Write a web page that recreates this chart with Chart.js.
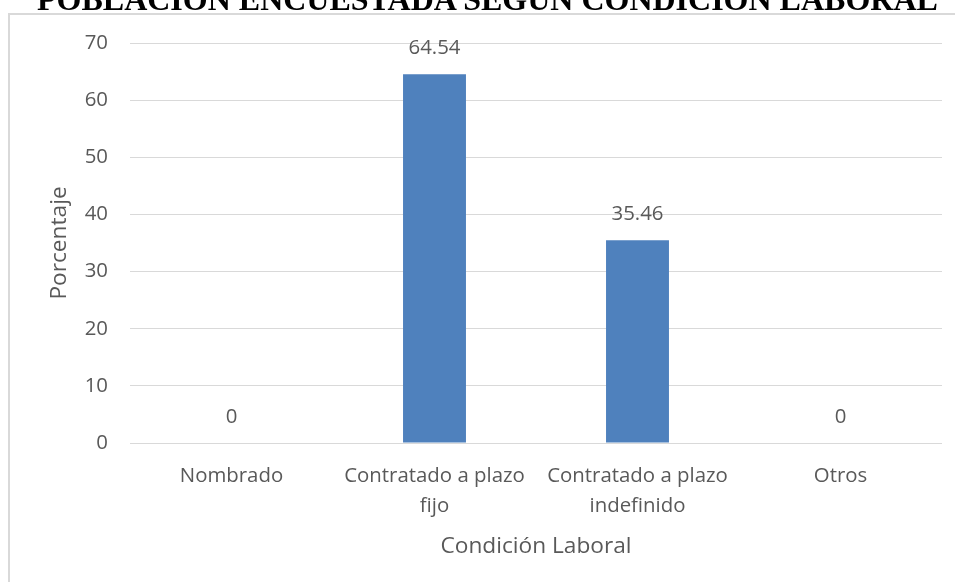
<!DOCTYPE html>
<html>
<head>
<meta charset="utf-8">
<script src="https://cdn.jsdelivr.net/npm/chart.js@4.4.0/dist/chart.umd.min.js"></script>
<style>
  html, body { margin: 0; padding: 0; background: #ffffff; width: 955px; height: 582px; overflow: hidden; }
  #title { position: absolute; left: 0; top: 0; width: 955px; height: 13px; overflow: hidden; z-index: 2; }
  #title span { position: absolute; left: 37px; white-space: nowrap; font-family: "Liberation Serif", "DejaVu Serif", serif; font-weight: bold; color: #000; line-height: 1; }
  #frame { position: absolute; left: 8px; top: 13px; width: 960px; height: 580px; border-left: 2px solid #d9d9d9; border-top: 2px solid #d9d9d9; }
  #wrap { position: absolute; left: 0; top: 0; width: 955px; height: 582px; z-index: 1; }
  canvas { display: block; }
</style>
</head>
<body>
<div id="frame"></div>
<div id="wrap"><canvas id="c" width="955" height="582"></canvas></div>
<div id="title"><span id="tt">POBLACIÓN ENCUESTADA SEGÚN CONDICIÓN LABORAL</span></div>
<script>
const categories = [["Nombrado"], ["Contratado a plazo", "fijo"], ["Contratado a plazo", "indefinido"], ["Otros"]];
const values = [0, 64.54, 35.46, 0];
const valueLabels = ["0", "64.54", "35.46", "0"];
const yTicks = [0, 10, 20, 30, 40, 50, 60, 70];
const xTitle = "Condición Laboral";
const yTitle = "Porcentaje";

// fit clipped title text
(function () {
  const el = document.getElementById('tt');
  const ctx = document.createElement('canvas').getContext('2d');
  ctx.font = 'bold 30px "Liberation Serif"';
  const w = ctx.measureText(el.textContent).width;
  const fs = 30 * 903 / w;
  el.style.fontSize = fs + 'px';
  el.style.top = (12 - fs * 0.891) + 'px';
})();

const textColor = '#595959';
const fontFam = '"Open Sans", "DejaVu Sans", sans-serif';
const fs = 20.4;
const fsTitle = 22.7;

const dataLabels = {
  id: 'dataLabels',
  afterDatasetsDraw(chart) {
    const ctx = chart.ctx;
    const meta = chart.getDatasetMeta(0);
    ctx.save();
    ctx.font = fs + 'px ' + fontFam;
    ctx.fillStyle = textColor;
    ctx.textAlign = 'center';
    ctx.textBaseline = 'middle';
    meta.data.forEach((bar, i) => {
      ctx.fillText(valueLabels[i], bar.x, bar.y - 26);
    });
    ctx.restore();
  }
};

new Chart(document.getElementById('c'), {
  type: 'bar',
  data: {
    labels: categories,
    datasets: [{
      data: values,
      backgroundColor: '#4f81bd',
      borderWidth: 0,
      barPercentage: 0.31,
      categoryPercentage: 1.0
    }]
  },
  options: {
    responsive: false,
    animation: false,
    devicePixelRatio: 1,
    layout: { padding: { left: 0, right: 13, top: 43, bottom: 0 } },
    plugins: { legend: { display: false }, tooltip: { enabled: false } },
    scales: {
      x: {
        grid: { display: false, drawTicks: false },
        border: { display: false },
        ticks: { color: textColor, font: { family: fontFam, size: fs, lineHeight: 1.47 }, padding: 18, maxRotation: 0, autoSkip: false },
        title: { display: true, text: xTitle, color: textColor, font: { family: fontFam, size: fsTitle }, padding: { top: 0, bottom: 22 } },
        afterFit(scale) { scale.height = 139; }
      },
      y: {
        min: 0, max: 70,
        afterBuildTicks(scale) { scale.ticks = yTicks.map(v => ({ value: v })); },
        grid: { color: '#d9d9d9', lineWidth: 1, drawTicks: false },
        border: { display: false },
        ticks: { color: textColor, font: { family: fontFam, size: fs }, padding: 22 },
        title: { display: true, text: yTitle, color: textColor, font: { family: fontFam, size: fsTitle }, padding: { top: 46, bottom: 0 } },
        afterFit(scale) { scale.width = 130; }
      }
    }
  },
  plugins: [dataLabels]
});
</script>
</body>
</html>
